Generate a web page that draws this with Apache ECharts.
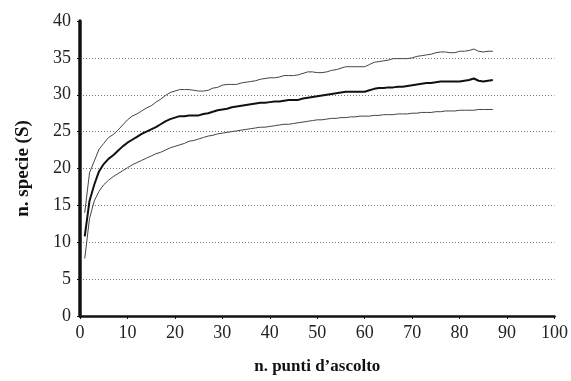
<!DOCTYPE html>
<html>
<head>
<meta charset="utf-8">
<script src="https://cdn.jsdelivr.net/npm/echarts@6/dist/echarts.min.js"></script>
<style>html,body{margin:0;padding:0;background:#fff;}#c{width:571px;height:381px;}</style>
</head>
<body>
<div id="c"></div>
<script>
var xLabel = 'n. punti d\u2019ascolto';
var yLabel = 'n. specie (S)';
var xTicks = [0,10,20,30,40,50,60,70,80,90,100];
var yTicks = [0,5,10,15,20,25,30,35,40];

var points = [];
for (var i = 1; i <= 87; i++) points.push(i);

var upper = [14.0,19.4,21.0,22.6,23.4,24.2,24.6,25.2,25.9,26.6,
27.1,27.4,27.8,28.2,28.5,29.0,29.4,29.9,30.3,30.5,
30.7,30.7,30.7,30.6,30.5,30.5,30.6,30.9,31.0,31.3,
31.4,31.4,31.4,31.6,31.7,31.8,31.9,32.1,32.2,32.3,
32.3,32.4,32.6,32.6,32.6,32.7,32.9,33.1,33.1,33.0,
33.0,33.1,33.3,33.4,33.6,33.8,33.8,33.8,33.8,33.8,
34.1,34.4,34.5,34.6,34.7,34.9,34.9,34.9,34.9,35.0,
35.2,35.3,35.4,35.5,35.7,35.8,35.8,35.7,35.7,35.9,
35.9,36.0,36.2,35.9,35.8,35.9,35.9];

var mean = [10.8,15.6,17.8,19.6,20.6,21.3,21.8,22.4,23.0,23.5,
23.9,24.3,24.7,25.0,25.3,25.6,26.0,26.4,26.7,26.9,
27.1,27.1,27.2,27.2,27.2,27.4,27.5,27.7,27.9,28.0,
28.1,28.3,28.4,28.5,28.6,28.7,28.8,28.9,28.9,29.0,
29.1,29.1,29.2,29.3,29.3,29.3,29.5,29.6,29.7,29.8,
29.9,30.0,30.1,30.2,30.3,30.4,30.4,30.4,30.4,30.4,
30.6,30.8,30.9,30.9,31.0,31.0,31.1,31.1,31.2,31.3,
31.4,31.5,31.6,31.6,31.7,31.8,31.8,31.8,31.8,31.8,
31.9,32.0,32.2,31.9,31.8,31.9,32.0];

var lower = [7.8,13.2,15.6,16.9,17.8,18.4,18.9,19.3,19.7,20.1,
20.5,20.8,21.1,21.4,21.7,22.0,22.2,22.5,22.8,23.0,
23.2,23.4,23.7,23.8,24.0,24.2,24.4,24.5,24.7,24.8,
24.9,25.0,25.1,25.2,25.3,25.4,25.5,25.6,25.6,25.7,
25.8,25.9,26.0,26.0,26.1,26.2,26.3,26.4,26.5,26.6,
26.6,26.7,26.8,26.8,26.9,26.9,27.0,27.0,27.1,27.1,
27.1,27.2,27.2,27.3,27.3,27.3,27.4,27.4,27.4,27.5,
27.5,27.6,27.6,27.6,27.7,27.7,27.8,27.8,27.8,27.9,
27.9,27.9,27.9,28.0,28.0,28.0,28.0];

function pairs(xs, ys){ return xs.map(function(x,i){ return [x, ys[i]]; }); }

var font = 'Liberation Serif';
var chart = echarts.init(document.getElementById('c'), null, {renderer:'canvas'});
var gridColors = yTicks.map(function(v,i){ return (i===0 || i===yTicks.length-1) ? 'rgba(0,0,0,0)' : '#777'; });

chart.setOption({
  animation: false,
  backgroundColor: '#fff',
  grid: {left: 80, right: 16, top: 21, bottom: 65, containLabel: false},
  xAxis: {
    type: 'value', min: xTicks[0], max: xTicks[xTicks.length-1], interval: 10,
    name: xLabel, nameLocation: 'middle', nameGap: 42,
    nameTextStyle: {fontFamily: font, fontWeight: 'bold', fontSize: 17, color: '#111'},
    axisLine: {show: true, lineStyle: {color: '#111', width: 2.5}},
    axisTick: {show: true, inside: false, length: 3, lineStyle: {color: '#111', width: 1}},
    axisLabel: {fontFamily: font, fontSize: 18, color: '#222', margin: 8},
    splitLine: {show: false}
  },
  yAxis: {
    type: 'value', min: yTicks[0], max: yTicks[yTicks.length-1], interval: 5,
    name: yLabel, nameLocation: 'middle', nameGap: 47, nameRotate: 90,
    nameTextStyle: {fontFamily: font, fontWeight: 'bold', fontSize: 19, color: '#111'},
    axisLine: {show: true, lineStyle: {color: '#111', width: 3.5}},
    axisTick: {show: true, inside: false, length: 3, lineStyle: {color: '#111', width: 1}},
    axisLabel: {fontFamily: font, fontSize: 18, color: '#222', margin: 9},
    splitLine: {show: true, lineStyle: {color: gridColors, width: 1, type: [1,2]}}
  },
  series: [
    {type: 'line', data: pairs(points, upper), showSymbol: false, symbol: 'none',
     lineStyle: {color: '#444', width: 1}, z: 3},
    {type: 'line', data: pairs(points, mean), showSymbol: false, symbol: 'none',
     lineStyle: {color: '#111', width: 2}, z: 4},
    {type: 'line', data: pairs(points, lower), showSymbol: false, symbol: 'none',
     lineStyle: {color: '#444', width: 1}, z: 3}
  ]
});
</script>
</body>
</html>
